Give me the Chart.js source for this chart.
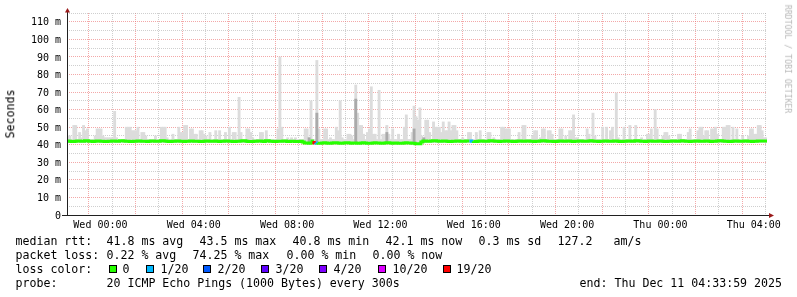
<!DOCTYPE html>
<html>
<head>
<meta charset="utf-8">
<script src="https://cdn.jsdelivr.net/npm/chart.js@4.4.1/dist/chart.umd.min.js"></script>
<style>
  html, body { margin:0; padding:0; background:#fff; }
  #wrap { position:relative; width:797px; height:297px; overflow:hidden; background:#fff; }
  #c { position:absolute; left:0; top:0; }
  .mono { font-family:"DejaVu Sans Mono", monospace; color:#000; white-space:pre; }
  .row { position:absolute; left:0; width:797px; height:14px; line-height:14px; font-size:11.6px; }
  .row span { position:absolute; top:0; }
  .box { position:absolute; width:6px; height:6px; border:1px solid #000; }
  #ylab { position:absolute; left:11px; top:114px; font-size:11.6px; line-height:1; transform:translate(-50%,-50%) rotate(-90deg); }
  #wm { position:absolute; left:788px; top:59px; font-size:8.2px; line-height:1; color:#b8b8b8; transform:translate(-50%,-50%) rotate(90deg); }
</style>
</head>
<body>
<div id="wrap">
  <canvas id="c" width="797" height="297"></canvas>
  <div id="ylab" class="mono">Seconds</div>
  <div id="wm" class="mono">RRDTOOL / TOBI OETIKER</div>
  <div id="legend"></div>
</div>
<script>
// ---------------- data ----------------
const startMinute = -86;          // Tue 22:34, minutes relative to Wed 00:00
const stepMinutes = 5;            // 300 s per sample
const smokeFloorMs = 41.2;

// median RTT per 5-minute sample (ms)
const medianRtt = [
42.1,42.1,42.0,41.9,41.9,42.0,42.1,42.1,42.0,42.0,42.2,42.2,
42.0,42.0,41.9,42.0,42.1,42.1,42.0,42.0,41.9,41.9,42.0,42.0,
42.1,42.1,42.0,42.0,42.2,42.2,42.1,42.0,42.0,41.9,41.9,42.0,
42.0,42.1,42.1,42.0,42.0,42.0,41.9,42.0,42.1,42.1,42.0,42.0,
42.0,42.2,42.2,42.1,42.0,41.9,41.9,42.0,42.0,42.1,42.1,42.0,
42.0,41.9,42.0,42.0,42.1,42.1,42.0,42.0,42.0,41.9,41.9,42.0,
42.1,42.1,42.0,42.0,42.0,42.1,42.0,41.9,42.0,42.0,42.1,42.1,
42.0,42.0,41.9,41.9,42.0,42.0,42.1,42.2,42.2,42.0,41.8,41.8,
41.9,42.0,42.0,42.1,42.1,42.0,41.9,42.2,42.2,42.0,42.0,41.9,
41.9,42.0,42.0,42.0,42.1,42.1,41.9,41.9,42.0,42.0,41.8,41.8,
41.9,42.0,41.6,41.0,41.0,40.9,41.0,42.1,
41.2,41.0,40.9,40.9,41.0,41.1,41.0,40.8,40.8,41.0,41.1,41.1,
41.0,40.9,40.9,41.0,41.2,41.2,41.0,40.9,41.0,41.0,40.8,40.9,
41.0,41.1,41.0,40.9,40.8,40.8,41.0,41.1,41.0,41.0,40.9,40.9,
41.0,41.2,41.1,41.0,40.9,41.0,41.0,40.8,40.8,40.9,41.0,41.1,
41.0,41.0,40.9,40.8,40.6,40.5,40.5,41.6,
42.1,42.1,42.0,42.0,42.1,42.2,42.2,42.1,42.0,42.0,42.1,42.1,
42.0,41.9,41.9,42.0,42.0,42.1,42.1,42.0,42.0,42.0,42.1,42.1,
42.1,42.0,41.9,41.9,42.0,42.1,42.1,42.0,42.0,42.0,42.2,42.2,
42.1,42.0,42.0,41.9,42.0,42.0,42.1,42.1,42.0,42.0,41.9,41.9,
42.0,42.1,42.1,42.0,42.0,42.1,42.1,42.0,42.0,41.9,42.0,42.0,
42.1,42.2,42.2,42.1,42.0,42.0,42.0,41.9,41.9,42.0,42.1,42.1,
42.0,42.0,42.1,42.1,42.0,41.9,42.0,42.0,42.1,42.1,42.0,42.0,
42.0,42.1,42.2,42.1,42.0,42.0,41.9,42.0,42.0,42.1,42.1,42.0,
42.0,42.0,42.1,42.1,42.0,41.9,41.9,42.0,42.0,42.1,42.1,42.0,
42.0,42.2,42.2,42.1,42.0,42.0,41.9,42.0,42.1,42.1,42.0,42.0,
42.0,42.1,42.1,42.0,41.9,41.9,42.0,42.0,42.1,42.1,42.0,42.0,
42.1,42.2,42.1,42.0,42.0,41.9,42.0,42.0,42.1,42.1,42.0,42.0,
42.0,42.1,42.1,42.0,41.9,42.0,42.0,42.1,42.2,42.2,42.1,42.0,
42.0,41.9,41.9,42.0,42.1,42.1,42.0,42.0,42.0,42.1,42.1,42.0,
42.0,41.9,42.0,42.0,42.1,42.1,42.1,42.1
];

// upper edge of the smoke (slowest ping) per sample (ms)
const smokeMax = [
45,45,43,51,51,43,47,44,51,48,49,43,
43,43,45,49,49,49,45,44,44,44,44,44,
59,44,42.5,42.5,43,43,50,50,50,48,48,48,
50,43,47,47,45,43,43,43,43,45,43,43,
50,50,50,44,43,43,46,43,43,50,47,47,
51,51,43,49,49,46,46,43,48,48,46,45,
43,47,43,43,48,43,48,43,43,47,43,50,
43,47,47,43,67,47,43,43,49,49,47,44,
43,43,43,47,47,43,48,43,43,43,43,43,
49,90,50,43,43,44,43,44,43,44,43,43,
43,43,49,49,44,65,43,43,88,49,43,43,
49,49,43,44,43,43,50,48,65,44,43,43,
46,46,45,43,74,58,51,51,46,43,47,49,
73,46,46,43,71,43,46,46,51,46,43,49,
43,43,46,43,43,50,57,43,43,47,62,56,
54,61,45,43,54,54,47,43,53,50,50,50,
47,53,48,48,53,48,51,51,48,43,43,44,
43,43,47,47,43,43,47,43,48,43,43,43,
47,47,43,44,43,43,43,50,50,49,49,49,
43,43,43,43,47,43,51,51,43,43,43,45,
48,48,43,44,49,49,43,48,48,46,43,43,
43,49,49,43,45,43,48,48,57,44,44,43,
43,43,43,49,46,43,58,45,43,43,43,50,
43,50,43,48,50,43,69.5,44,43,43,50,43,
43,51,43,43,51,43,43,44,43,43,46,46,
49,43,60,49,43,43,45,47,47,45,43,43,
43,43,46,46,43,43,43,47,49,43,43,43,
48,50,50,45,48,48,43,49,49,50,46,43,
43,50,50,51,51,43,50,43,49,43,43,45,
43,43,45,49,49,46,46,51,51,48,44,44
];

// denser (darker) smoke: [sample index, upper edge ms]
const darkSmoke = [[124,44],[128,58],[148,66],[164,47],[178,49],[183,44]];

// loss events: [sample index, loss colour index]
const lossEvents = [[127,6],[128,1],[207,1],[208,1]];

const lossLabels = ['0','1/20','2/20','3/20','4/20','10/20','19/20'];
const lossColors = ['#26ff00','#00b8ff','#0059ff','#5e00ff','#7e00ff','#dd00ff','#ff0000'];

const xTickHours = [-1,0,1,2,3,4,5,6,7,8,9,10,11,12,13,14,15,16,17,18,19,20,21,22,23,24,25,26,27,28];
const xLabelHours = [0,4,8,12,16,20,24,28];
const xLabels = ['Wed 00:00','Wed 04:00','Wed 08:00','Wed 12:00','Wed 16:00','Wed 20:00','Thu 00:00','Thu 04:00'];
const yTickMs = [0,5,10,15,20,25,30,35,40,45,50,55,60,65,70,75,80,85,90,95,100,105,110,115];
const yLabelMs = [0,10,20,30,40,50,60,70,80,90,100,110];
const yLabels = ['0','10 m','20 m','30 m','40 m','50 m','60 m','70 m','80 m','90 m','100 m','110 m'];

const legendRows = [
  [['median rtt:',16],['41.8 ms avg',107],['43.5 ms max',200],['40.8 ms min',293],['42.1 ms now',386],['0.3 ms sd',479],['127.2',558],['am/s',614]],
  [['packet loss:',16],['0.22 % avg',107],['74.25 % max',193],['0.00 % min',287],['0.00 % now',373]],
  [['loss color:',16]],
  [['probe:',16],['20 ICMP Echo Pings (1000 Bytes) every 300s',107]]
];
const lossBoxX = [109,146,203,261,319,378,443];
const lossLabelX = [123,161,218,276,334,393,457];
const endText = 'end: Thu Dec 11 04:33:59 2025';

// ---------------- build ----------------
const nSamples = medianRtt.length;
const minHour = startMinute / 60;
const maxHour = (startMinute + nSamples * stepMinutes) / 60;
const slotStart = i => (startMinute + i * stepMinutes) / 60;
const slotMid = i => (startMinute + (i + 0.5) * stepMinutes) / 60;

const lossAt = new Array(nSamples).fill(0);
lossEvents.forEach(([i, l]) => { lossAt[i] = l; });

const medianPts = medianRtt.map((v, i) => ({ x: slotStart(i), y: v }));
medianPts.push({ x: maxHour, y: medianRtt[nSamples - 1] });
const smokePts = smokeMax.map((v, i) => ({ x: slotMid(i), y: [smokeFloorMs, v] }));
const darkPts = darkSmoke.map(([i, v]) => ({ x: slotMid(i), y: [smokeFloorMs, v] }));

const MAJ = 'rgba(235,110,110,0.6)';
const MIN = 'rgba(160,160,160,0.5)';

const axisDeco = {
  id: 'axisDeco',
  afterDraw(chart) {
    const { ctx, chartArea: a } = chart;
    ctx.save();
    ctx.strokeStyle = '#202020';
    ctx.lineWidth = 1;
    ctx.beginPath();
    ctx.moveTo(a.left - 5, Math.round(a.bottom) + 0.5);
    ctx.lineTo(a.right + 3, Math.round(a.bottom) + 0.5);
    ctx.moveTo(Math.round(a.left) + 0.5, a.bottom);
    ctx.lineTo(Math.round(a.left) + 0.5, a.top - 1);
    ctx.stroke();
    ctx.fillStyle = '#9a1a1a';
    const bx = Math.round(a.left) + 0.5, by = Math.round(a.bottom) + 0.5;
    ctx.beginPath();
    ctx.moveTo(bx - 2.5, a.top - 0.5);
    ctx.lineTo(bx + 2.5, a.top - 0.5);
    ctx.lineTo(bx, a.top - 5);
    ctx.closePath();
    ctx.fill();
    ctx.beginPath();
    ctx.moveTo(a.right + 2, by - 2.5);
    ctx.lineTo(a.right + 2, by + 2.5);
    ctx.lineTo(a.right + 7, by);
    ctx.closePath();
    ctx.fill();
    ctx.restore();
  }
};

new Chart(document.getElementById('c'), {
  data: {
    datasets: [
      {
        type: 'line', data: medianPts, order: 0,
        borderColor: lossColors[0], borderWidth: 3, pointRadius: 0,
        stepped: 'after', tension: 0, borderCapStyle: 'butt',
        segment: { borderColor: c => lossColors[lossAt[c.p0DataIndex] || 0] }
      },
      {
        type: 'bar', data: darkPts, order: 1, grouped: false,
        backgroundColor: '#aaaaaa', borderWidth: 0, barThickness: 2.2
      },
      {
        type: 'bar', data: smokePts, order: 2, grouped: false,
        backgroundColor: '#dcdcdc', borderWidth: 0, barThickness: 2.2
      }
    ]
  },
  options: {
    responsive: false, animation: false, maintainAspectRatio: false,
    layout: { padding: { left: 0, right: 30, top: 13, bottom: 0 } },
    plugins: { legend: { display: false }, tooltip: { enabled: false } },
    scales: {
      x: {
        type: 'linear', min: minHour, max: maxHour, offset: false,
        afterBuildTicks: s => { s.ticks = xTickHours.map(v => ({ value: v })); },
        afterFit: s => { s.height = 297 - 215; },
        ticks: {
          autoSkip: false, maxRotation: 0, minRotation: 0, padding: 4, color: '#000',
          font: { family: 'DejaVu Sans Mono', size: 10 },
          callback: v => { const k = xLabelHours.indexOf(v); return k >= 0 ? xLabels[k] : ''; }
        },
        grid: {
          drawTicks: false, lineWidth: 1,
          color: c => (c.tick && c.tick.value % 2 === 0) ? MAJ : MIN
        },
        border: { display: false, dash: [1, 1] }
      },
      y: {
        type: 'linear', min: 0, max: 115,
        afterBuildTicks: s => { s.ticks = yTickMs.map(v => ({ value: v })); },
        afterFit: s => { s.width = 67; },
        ticks: {
          autoSkip: false, padding: 6, color: '#000', labelOffset: 1,
          font: { family: 'DejaVu Sans Mono', size: 10 },
          callback: v => { const k = yLabelMs.indexOf(v); return k >= 0 ? yLabels[k] : ''; }
        },
        grid: {
          drawTicks: false, lineWidth: 1,
          color: c => {
            const v = c.tick ? c.tick.value : -1;
            if (v === 0) return 'rgba(0,0,0,0)';
            return v % 10 === 0 ? MAJ : MIN;
          }
        },
        border: { display: false, dash: [1, 1] }
      }
    }
  },
  plugins: [axisDeco]
});

// ---------------- legend text ----------------
const legend = document.getElementById('legend');
const rowTops = [234.4, 248.0, 262.0, 276.0];
legendRows.forEach((items, r) => {
  const row = document.createElement('div');
  row.className = 'row mono';
  row.style.top = rowTops[r] + 'px';
  items.forEach(([t, x]) => {
    const s = document.createElement('span');
    s.textContent = t; s.style.left = (x - 0.5) + 'px';
    row.appendChild(s);
  });
  if (r === 2) {
    lossLabels.forEach((lab, k) => {
      const b = document.createElement('div');
      b.className = 'box'; b.style.left = lossBoxX[k] + 'px'; b.style.top = '3px';
      b.style.background = lossColors[k];
      row.appendChild(b);
      const s = document.createElement('span');
      s.textContent = lab; s.style.left = (lossLabelX[k] - 0.5) + 'px';
      row.appendChild(s);
    });
  }
  if (r === 3) {
    const s = document.createElement('span');
    s.textContent = endText; s.style.right = '15px';
    row.appendChild(s);
  }
  legend.appendChild(row);
});
</script>
</body>
</html>
